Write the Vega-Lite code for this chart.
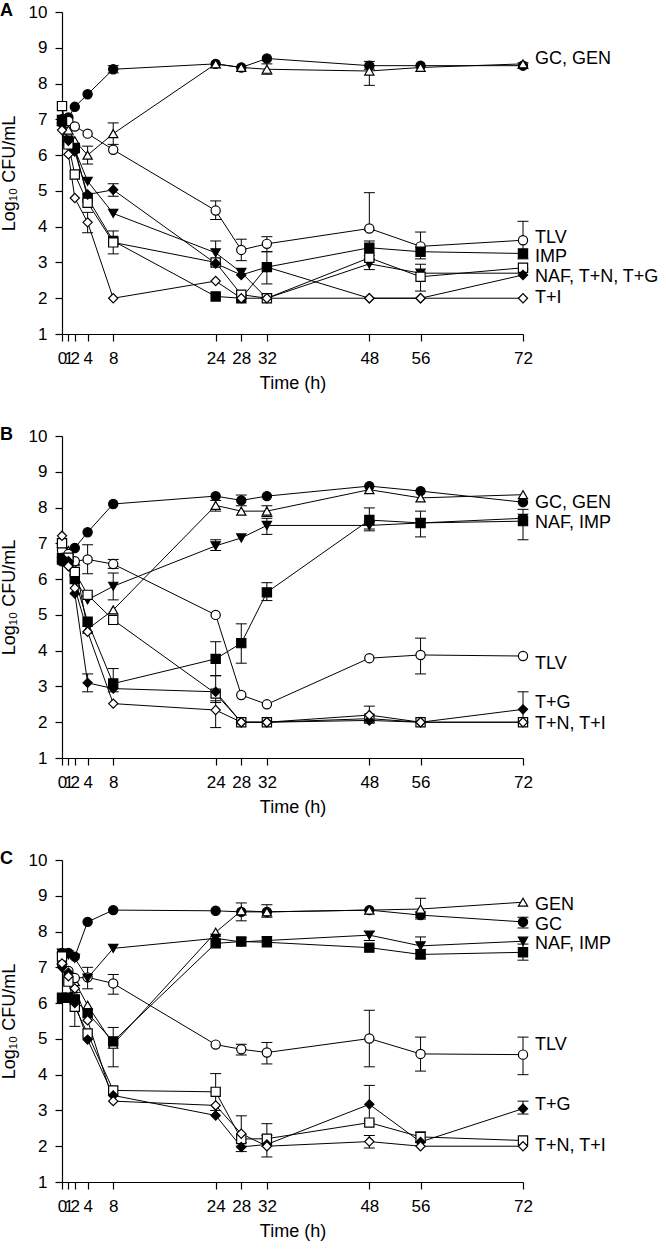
{
  "$schema": "https://vega.github.io/schema/vega-lite/v6.json",
  "padding": {"left": 0, "top": 2, "right": 5, "bottom": 1},
  "spacing": 34,
  "datasets": {
    "A": [
      {"t":0,"s":"GC","v":6.9},{"t":1,"s":"GC","v":7.05},{"t":2,"s":"GC","v":7.35},{"t":4,"s":"GC","v":7.7},{"t":8,"s":"GC","v":8.4},{"t":24,"s":"GC","v":8.55},{"t":28,"s":"GC","v":8.45},{"t":32,"s":"GC","v":8.7},{"t":48,"s":"GC","v":8.5},{"t":56,"s":"GC","v":8.5},{"t":72,"s":"GC","v":8.5},
      {"t":0,"s":"GEN","v":6.95},{"t":1,"s":"GEN","v":6.7},{"t":2,"s":"GEN","v":6.4},{"t":4,"s":"GEN","v":6.0},{"t":8,"s":"GEN","v":6.6},{"t":24,"s":"GEN","v":8.55},{"t":28,"s":"GEN","v":8.45},{"t":32,"s":"GEN","v":8.4},{"t":48,"s":"GEN","v":8.35},{"t":56,"s":"GEN","v":8.45},{"t":72,"s":"GEN","v":8.55},
      {"t":0,"s":"TLV","v":7.0},{"t":1,"s":"TLV","v":6.95},{"t":2,"s":"TLV","v":6.8},{"t":4,"s":"TLV","v":6.6},{"t":8,"s":"TLV","v":6.15},{"t":24,"s":"TLV","v":4.45},{"t":28,"s":"TLV","v":3.35},{"t":32,"s":"TLV","v":3.52},{"t":48,"s":"TLV","v":3.95},{"t":56,"s":"TLV","v":3.45},{"t":72,"s":"TLV","v":3.62},
      {"t":0,"s":"IMP","v":6.95},{"t":1,"s":"IMP","v":6.4},{"t":2,"s":"IMP","v":6.2},{"t":4,"s":"IMP","v":4.8},{"t":8,"s":"IMP","v":3.6},{"t":24,"s":"IMP","v":2.05},{"t":28,"s":"IMP","v":2.0},{"t":32,"s":"IMP","v":2.87},{"t":48,"s":"IMP","v":3.41},{"t":56,"s":"IMP","v":3.3},{"t":72,"s":"IMP","v":3.25},
      {"t":0,"s":"NAF","v":7.0},{"t":1,"s":"NAF","v":6.3},{"t":2,"s":"NAF","v":6.15},{"t":4,"s":"NAF","v":5.27},{"t":8,"s":"NAF","v":4.37},{"t":24,"s":"NAF","v":3.27},{"t":28,"s":"NAF","v":2.72},{"t":32,"s":"NAF","v":2.0},{"t":48,"s":"NAF","v":2.96},{"t":56,"s":"NAF","v":2.7},{"t":72,"s":"NAF","v":2.7},
      {"t":0,"s":"T+N","v":7.37},{"t":1,"s":"T+N","v":6.3},{"t":2,"s":"T+N","v":5.46},{"t":4,"s":"T+N","v":4.67},{"t":8,"s":"T+N","v":3.56},{"t":24,"s":"T+N","v":3.0},{"t":28,"s":"T+N","v":2.1},{"t":32,"s":"T+N","v":2.0},{"t":48,"s":"T+N","v":3.13},{"t":56,"s":"T+N","v":2.6},{"t":72,"s":"T+N","v":2.85},
      {"t":0,"s":"T+G","v":6.9},{"t":1,"s":"T+G","v":6.4},{"t":2,"s":"T+G","v":6.1},{"t":4,"s":"T+G","v":4.9},{"t":8,"s":"T+G","v":5.03},{"t":24,"s":"T+G","v":2.97},{"t":28,"s":"T+G","v":2.65},{"t":32,"s":"T+G","v":2.87},{"t":48,"s":"T+G","v":2.0},{"t":56,"s":"T+G","v":2.0},{"t":72,"s":"T+G","v":2.65},
      {"t":0,"s":"T+I","v":6.7},{"t":1,"s":"T+I","v":6.02},{"t":2,"s":"T+I","v":4.8},{"t":4,"s":"T+I","v":4.12},{"t":8,"s":"T+I","v":2.0},{"t":24,"s":"T+I","v":2.48},{"t":28,"s":"T+I","v":2.0},{"t":32,"s":"T+I","v":2.0},{"t":48,"s":"T+I","v":2.0},{"t":56,"s":"T+I","v":2.0},{"t":72,"s":"T+I","v":2.0}
    ],
    "EA": [
      {"t":8,"s":"GC","lo":8.3,"hi":8.5},{"t":48,"s":"GC","lo":8.4,"hi":8.62},{"t":72,"s":"GC","lo":8.42,"hi":8.58},
      {"t":4,"s":"GEN","lo":5.75,"hi":6.25},{"t":8,"s":"GEN","lo":6.3,"hi":6.9},{"t":32,"s":"GEN","lo":8.26,"hi":8.55},{"t":48,"s":"GEN","lo":7.95,"hi":8.5},
      {"t":24,"s":"TLV","lo":4.2,"hi":4.72},{"t":28,"s":"TLV","lo":3.05,"hi":3.65},{"t":32,"s":"TLV","lo":3.3,"hi":3.72},{"t":48,"s":"TLV","lo":3.9,"hi":4.95},{"t":56,"s":"TLV","lo":3.1,"hi":3.85},{"t":72,"s":"TLV","lo":3.1,"hi":4.15},
      {"t":32,"s":"IMP","lo":2.4,"hi":3.3},{"t":48,"s":"IMP","lo":3.2,"hi":3.6},
      {"t":24,"s":"NAF","lo":2.95,"hi":3.6},{"t":48,"s":"NAF","lo":2.8,"hi":3.1},
      {"t":8,"s":"T+N","lo":3.24,"hi":3.88},{"t":56,"s":"T+N","lo":2.2,"hi":2.95},
      {"t":4,"s":"T+I","lo":3.83,"hi":4.4},
      {"t":8,"s":"T+G","lo":4.85,"hi":5.2}
    ],
    "LA": [
      {"t":72,"v":8.7,"label":"GC, GEN"},{"t":72,"v":3.69,"label":"TLV"},{"t":72,"v":3.15,"label":"IMP"},{"t":72,"v":2.6,"label":"NAF, T+N, T+G"},{"t":72,"v":2.0,"label":"T+I"}
    ],
    "B": [
      {"t":0,"s":"GC","v":6.5},{"t":1,"s":"GC","v":6.6},{"t":2,"s":"GC","v":6.87},{"t":4,"s":"GC","v":7.31},{"t":8,"s":"GC","v":8.1},{"t":24,"s":"GC","v":8.32},{"t":28,"s":"GC","v":8.2},{"t":32,"s":"GC","v":8.32},{"t":48,"s":"GC","v":8.6},{"t":56,"s":"GC","v":8.46},{"t":72,"s":"GC","v":8.15},
      {"t":0,"s":"GEN","v":7.0},{"t":1,"s":"GEN","v":6.8},{"t":2,"s":"GEN","v":6.5},{"t":4,"s":"GEN","v":4.6},{"t":8,"s":"GEN","v":5.14},{"t":24,"s":"GEN","v":8.06},{"t":28,"s":"GEN","v":7.9},{"t":32,"s":"GEN","v":7.9},{"t":48,"s":"GEN","v":8.5},{"t":56,"s":"GEN","v":8.27},{"t":72,"s":"GEN","v":8.36},
      {"t":0,"s":"TLV","v":6.8},{"t":1,"s":"TLV","v":6.7},{"t":2,"s":"TLV","v":6.5},{"t":4,"s":"TLV","v":6.55},{"t":8,"s":"TLV","v":6.42},{"t":24,"s":"TLV","v":5.0},{"t":28,"s":"TLV","v":2.76},{"t":32,"s":"TLV","v":2.5},{"t":48,"s":"TLV","v":3.79},{"t":56,"s":"TLV","v":3.88},{"t":72,"s":"TLV","v":3.85},
      {"t":0,"s":"IMP","v":6.55},{"t":1,"s":"IMP","v":6.5},{"t":2,"s":"IMP","v":6.0},{"t":4,"s":"IMP","v":4.81},{"t":8,"s":"IMP","v":3.08},{"t":24,"s":"IMP","v":3.77},{"t":28,"s":"IMP","v":4.21},{"t":32,"s":"IMP","v":5.63},{"t":48,"s":"IMP","v":7.65},{"t":56,"s":"IMP","v":7.57},{"t":72,"s":"IMP","v":7.62},
      {"t":0,"s":"NAF","v":6.6},{"t":1,"s":"NAF","v":6.5},{"t":2,"s":"NAF","v":6.0},{"t":4,"s":"NAF","v":5.42},{"t":8,"s":"NAF","v":5.8},{"t":24,"s":"NAF","v":6.93},{"t":28,"s":"NAF","v":7.15},{"t":32,"s":"NAF","v":7.5},{"t":48,"s":"NAF","v":7.5},{"t":56,"s":"NAF","v":7.57},{"t":72,"s":"NAF","v":7.7},
      {"t":0,"s":"T+N","v":7.0},{"t":1,"s":"T+N","v":6.6},{"t":2,"s":"T+N","v":6.2},{"t":4,"s":"T+N","v":5.56},{"t":8,"s":"T+N","v":4.86},{"t":24,"s":"T+N","v":2.8},{"t":28,"s":"T+N","v":2.0},{"t":32,"s":"T+N","v":2.0},{"t":48,"s":"T+N","v":2.1},{"t":56,"s":"T+N","v":2.0},{"t":72,"s":"T+N","v":2.0},
      {"t":0,"s":"T+G","v":6.6},{"t":1,"s":"T+G","v":6.5},{"t":2,"s":"T+G","v":5.6},{"t":4,"s":"T+G","v":3.1},{"t":8,"s":"T+G","v":2.94},{"t":24,"s":"T+G","v":2.85},{"t":28,"s":"T+G","v":2.0},{"t":32,"s":"T+G","v":2.0},{"t":48,"s":"T+G","v":2.05},{"t":56,"s":"T+G","v":2.0},{"t":72,"s":"T+G","v":2.36},
      {"t":0,"s":"T+I","v":7.21},{"t":1,"s":"T+I","v":6.36},{"t":2,"s":"T+I","v":5.75},{"t":4,"s":"T+I","v":4.53},{"t":8,"s":"T+I","v":2.52},{"t":24,"s":"T+I","v":2.34},{"t":28,"s":"T+I","v":2.0},{"t":32,"s":"T+I","v":2.0},{"t":48,"s":"T+I","v":2.2},{"t":56,"s":"T+I","v":2.0},{"t":72,"s":"T+I","v":2.0}
    ],
    "EB": [
      {"t":28,"s":"GC","lo":8.05,"hi":8.35},
      {"t":24,"s":"GEN","lo":7.9,"hi":8.2},{"t":32,"s":"GEN","lo":7.75,"hi":8.05},
      {"t":4,"s":"TLV","lo":6.15,"hi":6.96},{"t":8,"s":"TLV","lo":6.3,"hi":6.55},{"t":56,"s":"TLV","lo":3.35,"hi":4.35},
      {"t":8,"s":"NAF","lo":5.42,"hi":6.17},{"t":24,"s":"NAF","lo":6.8,"hi":7.1},{"t":32,"s":"NAF","lo":7.25,"hi":7.7},{"t":48,"s":"NAF","lo":7.35,"hi":7.6},
      {"t":8,"s":"IMP","lo":2.85,"hi":3.5},{"t":24,"s":"IMP","lo":3.3,"hi":4.25},{"t":28,"s":"IMP","lo":3.65,"hi":4.75},{"t":32,"s":"IMP","lo":5.4,"hi":5.9},{"t":48,"s":"IMP","lo":7.4,"hi":7.99},{"t":56,"s":"IMP","lo":7.18,"hi":7.9},{"t":72,"s":"IMP","lo":7.1,"hi":7.95},
      {"t":4,"s":"T+G","lo":2.85,"hi":3.35},{"t":72,"s":"T+G","lo":2.0,"hi":2.85},
      {"t":24,"s":"T+I","lo":1.85,"hi":2.6},{"t":48,"s":"T+I","lo":2.0,"hi":2.45},
      {"t":24,"s":"T+N","lo":2.55,"hi":3.3}
    ],
    "LB": [
      {"t":72,"v":8.13,"label":"GC, GEN"},{"t":72,"v":7.57,"label":"NAF, IMP"},{"t":72,"v":3.64,"label":"TLV"},{"t":72,"v":2.54,"label":"T+G"},{"t":72,"v":1.96,"label":"T+N, T+I"}
    ],
    "C": [
      {"t":0,"s":"GC","v":7.4},{"t":1,"s":"GC","v":7.4},{"t":2,"s":"GC","v":7.3},{"t":4,"s":"GC","v":8.27},{"t":8,"s":"GC","v":8.6},{"t":24,"s":"GC","v":8.58},{"t":28,"s":"GC","v":8.55},{"t":32,"s":"GC","v":8.55},{"t":48,"s":"GC","v":8.6},{"t":56,"s":"GC","v":8.46},{"t":72,"s":"GC","v":8.27},
      {"t":0,"s":"GEN","v":7.2},{"t":1,"s":"GEN","v":6.9},{"t":2,"s":"GEN","v":6.6},{"t":4,"s":"GEN","v":5.94},{"t":8,"s":"GEN","v":4.85},{"t":24,"s":"GEN","v":7.98},{"t":28,"s":"GEN","v":8.58},{"t":32,"s":"GEN","v":8.55},{"t":48,"s":"GEN","v":8.6},{"t":56,"s":"GEN","v":8.63},{"t":72,"s":"GEN","v":8.82},
      {"t":0,"s":"TLV","v":7.1},{"t":1,"s":"TLV","v":6.9},{"t":2,"s":"TLV","v":6.7},{"t":4,"s":"TLV","v":6.72},{"t":8,"s":"TLV","v":6.55},{"t":24,"s":"TLV","v":4.84},{"t":28,"s":"TLV","v":4.71},{"t":32,"s":"TLV","v":4.62},{"t":48,"s":"TLV","v":5.01},{"t":56,"s":"TLV","v":4.58},{"t":72,"s":"TLV","v":4.56},
      {"t":0,"s":"IMP","v":6.15},{"t":1,"s":"IMP","v":6.15},{"t":2,"s":"IMP","v":6.1},{"t":4,"s":"IMP","v":5.72},{"t":8,"s":"IMP","v":4.93},{"t":24,"s":"IMP","v":7.67},{"t":28,"s":"IMP","v":7.72},{"t":32,"s":"IMP","v":7.7},{"t":48,"s":"IMP","v":7.55},{"t":56,"s":"IMP","v":7.36},{"t":72,"s":"IMP","v":7.42},
      {"t":0,"s":"NAF","v":7.4},{"t":1,"s":"NAF","v":7.35},{"t":2,"s":"NAF","v":7.25},{"t":4,"s":"NAF","v":6.7},{"t":8,"s":"NAF","v":7.53},{"t":24,"s":"NAF","v":7.81},{"t":28,"s":"NAF","v":7.71},{"t":32,"s":"NAF","v":7.75},{"t":48,"s":"NAF","v":7.9},{"t":56,"s":"NAF","v":7.6},{"t":72,"s":"NAF","v":7.73},
      {"t":0,"s":"T+N","v":7.3},{"t":1,"s":"T+N","v":6.6},{"t":2,"s":"T+N","v":5.9},{"t":4,"s":"T+N","v":5.15},{"t":8,"s":"T+N","v":3.56},{"t":24,"s":"T+N","v":3.52},{"t":28,"s":"T+N","v":2.2},{"t":32,"s":"T+N","v":2.21},{"t":48,"s":"T+N","v":2.66},{"t":56,"s":"T+N","v":2.26},{"t":72,"s":"T+N","v":2.16},
      {"t":0,"s":"T+G","v":7.0},{"t":1,"s":"T+G","v":6.85},{"t":2,"s":"T+G","v":6.0},{"t":4,"s":"T+G","v":4.98},{"t":8,"s":"T+G","v":3.42},{"t":24,"s":"T+G","v":2.86},{"t":28,"s":"T+G","v":1.98},{"t":32,"s":"T+G","v":2.05},{"t":48,"s":"T+G","v":3.17},{"t":56,"s":"T+G","v":2.12},{"t":72,"s":"T+G","v":3.05},
      {"t":0,"s":"T+I","v":7.11},{"t":1,"s":"T+I","v":6.75},{"t":2,"s":"T+I","v":6.41},{"t":4,"s":"T+I","v":5.52},{"t":8,"s":"T+I","v":3.26},{"t":24,"s":"T+I","v":3.14},{"t":28,"s":"T+I","v":2.35},{"t":32,"s":"T+I","v":2.0},{"t":48,"s":"T+I","v":2.13},{"t":56,"s":"T+I","v":2.0},{"t":72,"s":"T+I","v":2.0}
    ],
    "EC": [
      {"t":28,"s":"GEN","lo":8.3,"hi":8.8},{"t":32,"s":"GEN","lo":8.4,"hi":8.75},{"t":56,"s":"GEN","lo":8.4,"hi":8.93},
      {"t":56,"s":"GC","lo":8.35,"hi":8.55},{"t":72,"s":"GC","lo":8.1,"hi":8.4},
      {"t":48,"s":"NAF","lo":7.75,"hi":8.0},{"t":56,"s":"NAF","lo":7.4,"hi":7.85},
      {"t":8,"s":"IMP","lo":4.22,"hi":5.32},{"t":56,"s":"IMP","lo":7.25,"hi":7.5},{"t":72,"s":"IMP","lo":7.2,"hi":7.65},
      {"t":4,"s":"TLV","lo":6.4,"hi":7.0},{"t":8,"s":"TLV","lo":6.25,"hi":6.8},{"t":28,"s":"TLV","lo":4.55,"hi":4.85},{"t":32,"s":"TLV","lo":4.3,"hi":4.9},{"t":48,"s":"TLV","lo":4.22,"hi":5.8},{"t":56,"s":"TLV","lo":4.1,"hi":5.05},{"t":72,"s":"TLV","lo":4.0,"hi":5.05},
      {"t":2,"s":"T+N","lo":5.35,"hi":6.3},{"t":24,"s":"T+N","lo":3.0,"hi":4.03},{"t":32,"s":"T+N","lo":2.0,"hi":2.63},{"t":56,"s":"T+N","lo":2.1,"hi":2.4},
      {"t":48,"s":"T+G","lo":2.7,"hi":3.7},{"t":72,"s":"T+G","lo":2.9,"hi":3.26},{"t":28,"s":"T+G","lo":1.85,"hi":2.1},
      {"t":28,"s":"T+I","lo":2.0,"hi":2.85},{"t":32,"s":"T+I","lo":1.7,"hi":2.3},{"t":48,"s":"T+I","lo":1.95,"hi":2.3}
    ],
    "LC": [
      {"t":72,"v":8.74,"label":"GEN"},{"t":72,"v":8.18,"label":"GC"},{"t":72,"v":7.64,"label":"NAF, IMP"},{"t":72,"v":4.82,"label":"TLV"},{"t":72,"v":3.14,"label":"T+G"},{"t":72,"v":2.02,"label":"T+N, T+I"}
    ]
  },
  "vconcat": [
    {
      "width": 461, "height": 322,
      "title": {"text": "A", "anchor": "start", "frame": "bounds", "fontSize": 18, "fontWeight": "bold", "font": "Liberation Sans", "offset": -17, "dx": 0, "color": "black"},
      "encoding": {
        "x": {"field": "t", "type": "quantitative", "title": "Time (h)", "scale": {"domain": [0, 72], "nice": false}, "axis": {"values": [0,1,2,4,8,24,28,32,48,56,72], "labelOverlap": false, "labelFlush": false, "labelPadding": 9, "titlePadding": 8}},
        "y": {"field": "v", "type": "quantitative", "title": "Log₁₀ CFU/mL", "scale": {"domain": [1, 10], "nice": false}, "axis": {"values": [1,2,3,4,5,6,7,8,9,10], "labelOverlap": false, "labelFlush": false, "labelPadding": 8, "titlePadding": 10}}
      },
      "layer": [
        {"data": {"name": "A"}, "mark": {"type": "line", "color": "black", "strokeWidth": 1},
         "encoding": {"detail": {"field": "s"}}},
        {"data": {"name": "EA"}, "mark": {"type": "rule", "color": "black", "strokeWidth": 1},
         "encoding": {"y": {"field": "lo", "type": "quantitative", "title": "Log₁₀ CFU/mL", "axis": {"values": [1,2,3,4,5,6,7,8,9,10], "labelOverlap": false, "labelFlush": false, "labelPadding": 8, "titlePadding": 10}}, "y2": {"field": "hi"}}},
        {"data": {"name": "EA"}, "mark": {"type": "tick", "orient": "horizontal", "size": 11, "thickness": 1, "color": "black", "opacity": 1},
         "encoding": {"y": {"field": "lo", "type": "quantitative", "title": "Log₁₀ CFU/mL", "axis": {"values": [1,2,3,4,5,6,7,8,9,10], "labelOverlap": false, "labelFlush": false, "labelPadding": 8, "titlePadding": 10}}}},
        {"data": {"name": "EA"}, "mark": {"type": "tick", "orient": "horizontal", "size": 11, "thickness": 1, "color": "black", "opacity": 1},
         "encoding": {"y": {"field": "hi", "type": "quantitative", "title": "Log₁₀ CFU/mL", "axis": {"values": [1,2,3,4,5,6,7,8,9,10], "labelOverlap": false, "labelFlush": false, "labelPadding": 8, "titlePadding": 10}}}},
        {"data": {"name": "A"}, "mark": {"type": "point", "filled": true, "size": 85, "stroke": "black", "strokeWidth": 1.2, "opacity": 1},
         "encoding": {
                      "shape": {"field": "s", "type": "nominal", "legend": null, "scale": {"domain": ["GC","GEN","TLV","IMP","NAF","T+N","T+G","T+I"], "range": ["circle","triangle-up","circle","square","triangle-down","square","diamond","diamond"]}},
                      "fill": {"field": "s", "type": "nominal", "legend": null, "scale": {"domain": ["GC","GEN","TLV","IMP","NAF","T+N","T+G","T+I"], "range": ["black","white","white","black","black","white","black","white"]}}}},
        {"data": {"name": "LA"}, "mark": {"type": "text", "align": "left", "baseline": "middle", "dx": 12, "fontSize": 18, "font": "Liberation Sans", "color": "black"},
         "encoding": {"text": {"field": "label"}}}
      ]
    },
    {
      "width": 461, "height": 322,
      "title": {"text": "B", "anchor": "start", "frame": "bounds", "fontSize": 18, "fontWeight": "bold", "font": "Liberation Sans", "offset": -17, "dx": 0, "color": "black"},
      "encoding": {
        "x": {"field": "t", "type": "quantitative", "title": "Time (h)", "scale": {"domain": [0, 72], "nice": false}, "axis": {"values": [0,1,2,4,8,24,28,32,48,56,72], "labelOverlap": false, "labelFlush": false, "labelPadding": 9, "titlePadding": 8}},
        "y": {"field": "v", "type": "quantitative", "title": "Log₁₀ CFU/mL", "scale": {"domain": [1, 10], "nice": false}, "axis": {"values": [1,2,3,4,5,6,7,8,9,10], "labelOverlap": false, "labelFlush": false, "labelPadding": 8, "titlePadding": 10}}
      },
      "layer": [
        {"data": {"name": "B"}, "mark": {"type": "line", "color": "black", "strokeWidth": 1},
         "encoding": {"detail": {"field": "s"}}},
        {"data": {"name": "EB"}, "mark": {"type": "rule", "color": "black", "strokeWidth": 1},
         "encoding": {"y": {"field": "lo", "type": "quantitative", "title": "Log₁₀ CFU/mL", "axis": {"values": [1,2,3,4,5,6,7,8,9,10], "labelOverlap": false, "labelFlush": false, "labelPadding": 8, "titlePadding": 10}}, "y2": {"field": "hi"}}},
        {"data": {"name": "EB"}, "mark": {"type": "tick", "orient": "horizontal", "size": 11, "thickness": 1, "color": "black", "opacity": 1},
         "encoding": {"y": {"field": "lo", "type": "quantitative", "title": "Log₁₀ CFU/mL", "axis": {"values": [1,2,3,4,5,6,7,8,9,10], "labelOverlap": false, "labelFlush": false, "labelPadding": 8, "titlePadding": 10}}}},
        {"data": {"name": "EB"}, "mark": {"type": "tick", "orient": "horizontal", "size": 11, "thickness": 1, "color": "black", "opacity": 1},
         "encoding": {"y": {"field": "hi", "type": "quantitative", "title": "Log₁₀ CFU/mL", "axis": {"values": [1,2,3,4,5,6,7,8,9,10], "labelOverlap": false, "labelFlush": false, "labelPadding": 8, "titlePadding": 10}}}},
        {"data": {"name": "B"}, "mark": {"type": "point", "filled": true, "size": 85, "stroke": "black", "strokeWidth": 1.2, "opacity": 1},
         "encoding": {
                      "shape": {"field": "s", "type": "nominal", "legend": null, "scale": {"domain": ["GC","GEN","TLV","IMP","NAF","T+N","T+G","T+I"], "range": ["circle","triangle-up","circle","square","triangle-down","square","diamond","diamond"]}},
                      "fill": {"field": "s", "type": "nominal", "legend": null, "scale": {"domain": ["GC","GEN","TLV","IMP","NAF","T+N","T+G","T+I"], "range": ["black","white","white","black","black","white","black","white"]}}}},
        {"data": {"name": "LB"}, "mark": {"type": "text", "align": "left", "baseline": "middle", "dx": 12, "fontSize": 18, "font": "Liberation Sans", "color": "black"},
         "encoding": {"text": {"field": "label"}}}
      ]
    },
    {
      "width": 461, "height": 322,
      "title": {"text": "C", "anchor": "start", "frame": "bounds", "fontSize": 18, "fontWeight": "bold", "font": "Liberation Sans", "offset": -17, "dx": 0, "color": "black"},
      "encoding": {
        "x": {"field": "t", "type": "quantitative", "title": "Time (h)", "scale": {"domain": [0, 72], "nice": false}, "axis": {"values": [0,1,2,4,8,24,28,32,48,56,72], "labelOverlap": false, "labelFlush": false, "labelPadding": 9, "titlePadding": 8}},
        "y": {"field": "v", "type": "quantitative", "title": "Log₁₀ CFU/mL", "scale": {"domain": [1, 10], "nice": false}, "axis": {"values": [1,2,3,4,5,6,7,8,9,10], "labelOverlap": false, "labelFlush": false, "labelPadding": 8, "titlePadding": 10}}
      },
      "layer": [
        {"data": {"name": "C"}, "mark": {"type": "line", "color": "black", "strokeWidth": 1},
         "encoding": {"detail": {"field": "s"}}},
        {"data": {"name": "EC"}, "mark": {"type": "rule", "color": "black", "strokeWidth": 1},
         "encoding": {"y": {"field": "lo", "type": "quantitative", "title": "Log₁₀ CFU/mL", "axis": {"values": [1,2,3,4,5,6,7,8,9,10], "labelOverlap": false, "labelFlush": false, "labelPadding": 8, "titlePadding": 10}}, "y2": {"field": "hi"}}},
        {"data": {"name": "EC"}, "mark": {"type": "tick", "orient": "horizontal", "size": 11, "thickness": 1, "color": "black", "opacity": 1},
         "encoding": {"y": {"field": "lo", "type": "quantitative", "title": "Log₁₀ CFU/mL", "axis": {"values": [1,2,3,4,5,6,7,8,9,10], "labelOverlap": false, "labelFlush": false, "labelPadding": 8, "titlePadding": 10}}}},
        {"data": {"name": "EC"}, "mark": {"type": "tick", "orient": "horizontal", "size": 11, "thickness": 1, "color": "black", "opacity": 1},
         "encoding": {"y": {"field": "hi", "type": "quantitative", "title": "Log₁₀ CFU/mL", "axis": {"values": [1,2,3,4,5,6,7,8,9,10], "labelOverlap": false, "labelFlush": false, "labelPadding": 8, "titlePadding": 10}}}},
        {"data": {"name": "C"}, "mark": {"type": "point", "filled": true, "size": 85, "stroke": "black", "strokeWidth": 1.2, "opacity": 1},
         "encoding": {
                      "shape": {"field": "s", "type": "nominal", "legend": null, "scale": {"domain": ["GC","GEN","TLV","IMP","NAF","T+N","T+G","T+I"], "range": ["circle","triangle-up","circle","square","triangle-down","square","diamond","diamond"]}},
                      "fill": {"field": "s", "type": "nominal", "legend": null, "scale": {"domain": ["GC","GEN","TLV","IMP","NAF","T+N","T+G","T+I"], "range": ["black","white","white","black","black","white","black","white"]}}}},
        {"data": {"name": "LC"}, "mark": {"type": "text", "align": "left", "baseline": "middle", "dx": 12, "fontSize": 18, "font": "Liberation Sans", "color": "black"},
         "encoding": {"text": {"field": "label"}}}
      ]
    }
  ],
  "config": {
    "view": {"stroke": null},
    "font": "Liberation Sans",
    "axis": {"domainColor": "black", "tickColor": "black", "labelColor": "black", "titleColor": "black", "labelFont": "Liberation Sans", "titleFont": "Liberation Sans", "labelFontSize": 17, "titleFontSize": 18, "titleFontWeight": "normal", "grid": false, "tickSize": 7, "domainWidth": 1.2, "tickWidth": 1.2},
    "axisY": {"labelOverlap": false}
  }
}
